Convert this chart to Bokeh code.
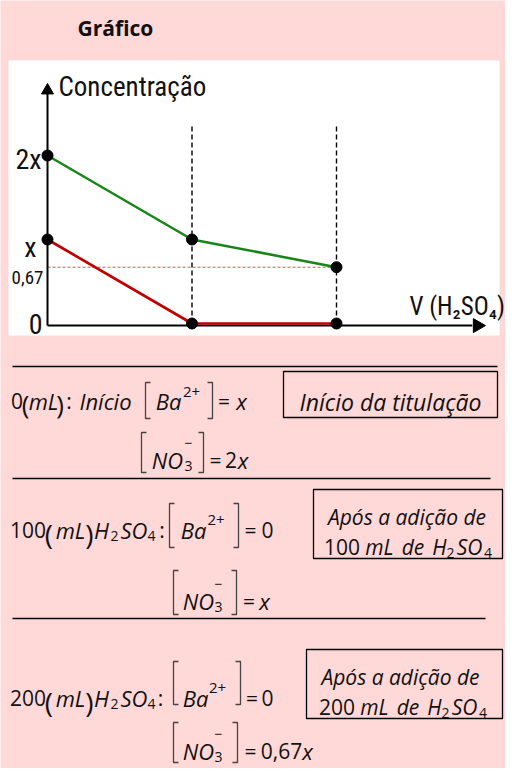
import math
from bokeh.plotting import figure
from bokeh.models import Range1d
from bokeh.core.properties import value
from bokeh.embed import file_html
from bokeh.resources import INLINE

# ---------------- data ----------------
volume_ml = [0, 100, 200]            # V(H2SO4) added, mL
nitrate_conc = [2, 1, 0.67]          # [NO3-] in units of x
barium_conc = [1, 0, 0]              # [Ba2+] in units of x
marker_volumes = [100, 200]
tick_values = [2, 1, 0.67, 0]
tick_labels = ["2x", "x", "0,67", "0"]

# ---------------- styles ----------------
PINK = "#ffd8d8"
GREEN = "#178517"
RED = "#c00000"
CHART_FONT = "Roboto Condensed, Noto Sans Condensed, Liberation Sans Narrow, DejaVu Sans Condensed, Roboto"
EQ_FONT = "Open Sans"
INK = "#111111"

W, H = 505, 768
# chart data -> pixel placement
X0_PX, X_PER_ML = 47, 1.445
Y0_PX, Y_PER_UNIT = 323, 84

p = figure(width=W, height=H, x_range=Range1d(0, W), y_range=Range1d(H, 0),
           output_backend="svg", toolbar_location=None,
           x_axis_location=None, y_axis_location=None, min_border=0,
           background_fill_color=PINK, border_fill_color=PINK, outline_line_color=None)
p.grid.visible = False
p.extra_x_ranges = {"ml": Range1d((0 - X0_PX) / X_PER_ML, (W - X0_PX) / X_PER_ML)}
p.extra_y_ranges = {"conc": Range1d((Y0_PX - H) / Y_PER_UNIT, (Y0_PX - 0) / Y_PER_UNIT)}
kw = dict(x_range_name="ml", y_range_name="conc")


def txt(s, x, y, size, style="normal", font=EQ_FONT, align="center", color=INK):
    p.text(x=[x], y=[y], text=[s], text_font=value(font), text_font_size=f"{size}px",
           text_font_style=style, text_align=align, text_baseline="alphabetic",
           text_color=color)


def bracket(xl, xr, yt, yb, serif=5):
    p.multi_line(xs=[[xl + serif, xl, xl, xl + serif], [xr - serif, xr, xr, xr - serif]],
                 ys=[[yt, yt, yb, yb], [yt, yt, yb, yb]], line_color="#444444", line_width=1.3)


# ---------------- title & chart panel ----------------
txt("Gráfico", 77, 27, 21, "bold", align="left")
p.quad(left=[8], right=[499], top=[60], bottom=[335], fill_color="white", line_color=None)

# guide lines
p.segment(x0=marker_volumes, y0=[0] * 2, x1=marker_volumes, y1=[2.37] * 2,
          line_color="black", line_width=1.4, line_dash="5 3", **kw)
p.segment(x0=[volume_ml[0]], y0=[nitrate_conc[2]], x1=[volume_ml[2]], y1=[nitrate_conc[2]],
          line_color="#e05050", line_width=1, line_dash="3 2", **kw)

# axes with arrow heads
p.segment(x0=[0], y0=[-0.025], x1=[0], y1=[2.74], line_color="black", line_width=2, **kw)
p.scatter(x=[0], y=[2.774], marker="triangle", size=12, color="black", **kw)
p.segment(x0=[0], y0=[-0.025], x1=[294], y1=[-0.025], line_color="black", line_width=2, **kw)
p.scatter(x=[297.5], y=[-0.025], marker="triangle", angle=-math.pi / 2, size=14,
          color="black", **kw)

# series
p.line(volume_ml, nitrate_conc, line_color=GREEN, line_width=2.5, **kw)
p.line(volume_ml, barium_conc, line_color=RED, line_width=2.7, **kw)
p.scatter(volume_ml + volume_ml, nitrate_conc + barium_conc, size=11, color="black", **kw)

# tick labels
p.text(x=[0] * 4, y=tick_values, text=tick_labels, x_offset=[-6, -11, -4, -5],
       y_offset=[4, 8, 10, 0], text_font=value(CHART_FONT),
       text_font_size=["28px", "28px", "19px", "28px"], text_align="right",
       text_baseline="alphabetic", text_color=INK, **kw)
txt("Concentração", 58, 86, 27, font=CHART_FONT, align="left")
txt("V (H₂SO₄)", 409, 306, 25, font=CHART_FONT, align="left")

# ---------------- rules ----------------
p.segment(x0=[12, 12, 12], y0=[366, 478, 618], x1=[497, 490, 485], y1=[366, 478, 618],
          line_color="black", line_width=1.3)

EQ = 21      # upright equation text
IT = 22      # italic equation text
SUB = 14     # subscript size
SUP = 15     # superscript size
PAR = 26     # tall parentheses

# ---------------- row 1 ----------------
B = 400
txt("0", 16.5, B, EQ)
txt("(", 25, B + 3, PAR)
txt("mL", 43, B, IT, "italic")
txt(")", 59.5, B + 3, PAR)
txt(":", 68.5, B, EQ)
txt("Início", 105, B, IT, "italic")
bracket(145, 212, 382, 418)
txt("Ba", 168, B, IT, "italic")
txt("2+", 191, B - 9, SUP)
txt("=", 223.5, B, EQ)
txt("x", 241, B, IT, "italic")
B = 459
bracket(141, 203, 432, 472)
txt("NO", 167, B, IT, "italic")
txt("3", 188, B + 6, SUB)
txt("−", 188, B - 17, SUB)
txt("=", 215, B, EQ)
txt("2", 230.5, B, EQ)
txt("x", 242.5, B, IT, "italic")
p.quad(left=[283], right=[497], top=[371], bottom=[417], fill_color=None,
       line_color="black", line_width=1.3)
txt("Início da titulação", 390, 401, 23, "italic")

# ---------------- row 2 ----------------
B = 529
txt("100", 27.5, B, EQ)
txt("(", 48.5, B + 4, PAR + 2)
txt("mL", 70, B, IT, "italic")
txt(")", 89, B + 4, PAR + 2)
txt("H", 101, B, IT, "italic")
txt("2", 114, B + 6, SUB)
txt("SO", 133.5, B, IT, "italic")
txt("4", 151, B + 6, SUB)
txt(":", 161.5, B, EQ)
bracket(169, 238, 503, 547)
txt("Ba", 193, B, IT, "italic")
txt("2+", 215.5, B - 10, SUP)
txt("=", 250, B, EQ)
txt("0", 267, B, EQ)
B = 600
bracket(173, 236, 570, 614)
txt("NO", 198, B, IT, "italic")
txt("3", 218, B + 6, SUB)
txt("−", 218, B - 17, SUB)
txt("=", 248.5, B, EQ)
txt("x", 264, B, IT, "italic")
p.quad(left=[313], right=[502], top=[489], bottom=[558], fill_color=None,
       line_color="black", line_width=1.3)
txt("Após a adição de", 406.5, 516, 21, "italic")
txt("100", 341.5, 546, 21)
txt("mL", 379, 546, 21, "italic")
txt("de", 412.5, 546, 21, "italic")
txt("H", 439, 546, 21, "italic")
txt("2", 450, 552, SUB)
txt("SO", 469, 546, 21, "italic")
txt("4", 487.5, 552, SUB)

# ---------------- row 3 ----------------
B = 697
txt("200", 27.5, B, EQ)
txt("(", 48.5, B + 4, PAR + 2)
txt("mL", 70, B, IT, "italic")
txt(")", 89, B + 4, PAR + 2)
txt("H", 101, B, IT, "italic")
txt("2", 114, B + 6, SUB)
txt("SO", 133.5, B, IT, "italic")
txt("4", 151, B + 6, SUB)
txt(":", 160, B, EQ)
bracket(173, 240, 661, 704)
txt("Ba", 195, B, IT, "italic")
txt("2+", 217, B - 10, SUP)
txt("=", 251.5, B, EQ)
txt("0", 267, B, EQ)
B = 750
bracket(173, 237, 722, 762)
txt("NO", 198, B, IT, "italic")
txt("3", 218, B + 6, SUB)
txt("−", 218, B - 17, SUB)
txt("=", 250, B, EQ)
txt("0,67", 281, B, EQ)
txt("x", 307, B, IT, "italic")
p.quad(left=[306], right=[502], top=[649], bottom=[718], fill_color=None,
       line_color="black", line_width=1.3)
txt("Após a adição de", 400, 676, 21, "italic")
txt("200", 336.5, 706, 21)
txt("mL", 374, 706, 21, "italic")
txt("de", 407.5, 706, 21, "italic")
txt("H", 434, 706, 21, "italic")
txt("2", 445, 712, SUB)
txt("SO", 464, 706, 21, "italic")
txt("4", 482.5, 712, SUB)

html = file_html(p, INLINE, title="Gráfico")
html = html.replace("<body>", f'<body style="background-color:{PINK};">', 1)
open("out.html", "w").write(html)
